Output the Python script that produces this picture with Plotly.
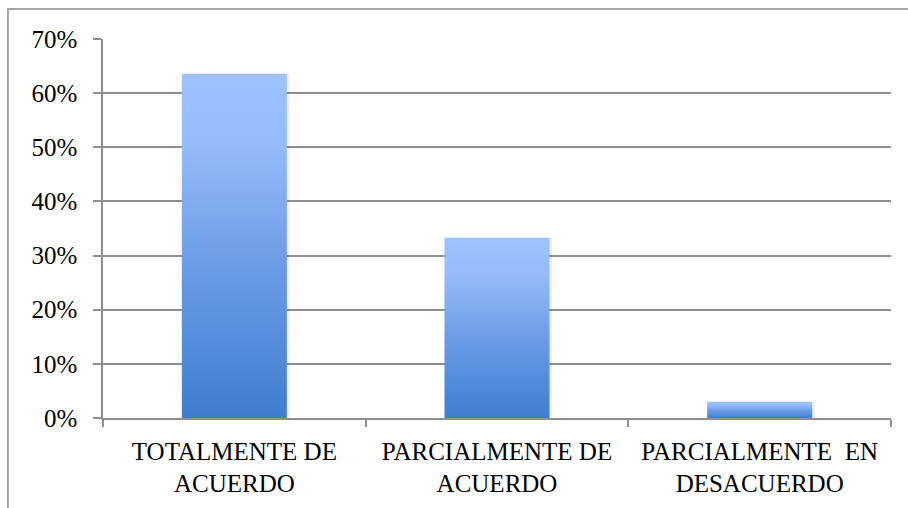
import plotly.graph_objects as go

categories = ["TOTALMENTE DE<br>ACUERDO", "PARCIALMENTE DE<br>ACUERDO", "PARCIALMENTE \u00a0EN<br>DESACUERDO"]
values = [0.636, 0.333, 0.030]
y_ticks = [0, 0.1, 0.2, 0.3, 0.4, 0.5, 0.6, 0.7]

BAR_W = 0.40
GRID = "#8e8e8e"
FONT = "Liberation Serif"
grad = [[0.0, "#3f7ecf"], [0.45, "#6c9ce6"], [0.8, "#95bcfb"], [1.0, "#9cc3ff"]]

fig = go.Figure()
for i, v in enumerate(values):
    xs = [i - BAR_W / 2, i + BAR_W / 2, i + BAR_W / 2, i - BAR_W / 2, i - BAR_W / 2]
    ys = [0, 0, v, v, 0]
    # soft shadow
    fig.add_trace(go.Scatter(
        x=[x + 0.010 for x in xs], y=ys, mode="lines",
        fill="toself", fillcolor="rgba(0,0,0,0.06)", line=dict(width=0),
        hoverinfo="skip", showlegend=False))
    fig.add_trace(go.Scatter(
        x=xs, y=ys, mode="lines", fill="toself",
        fillgradient=dict(type="vertical", colorscale=grad),
        line=dict(width=0), showlegend=False, hoverinfo="skip"))

fig.update_layout(
    width=908, height=508,
    margin=dict(l=103, r=17, t=39, b=90),
    paper_bgcolor="white", plot_bgcolor="white",
    font=dict(family=FONT, size=25, color="black"),
    showlegend=False,
    shapes=[dict(type="rect", xref="paper", yref="paper",
                 x0=-0.1206, x1=1.05, y0=-0.3, y1=1.079,
                 line=dict(color="#8a8a8a", width=1.5), fillcolor="rgba(0,0,0,0)", layer="below")],
)
fig.update_xaxes(
    range=[-0.5, 2.5], tickmode="array", tickvals=[0, 1, 2], ticktext=categories,
    ticks="", showgrid=False, zeroline=False,
    showline=True, linecolor=GRID, linewidth=1.5,
    minor=dict(tickmode="array", tickvals=[-0.5, 0.5, 1.5, 2.5], ticks="outside",
               ticklen=7, tickcolor=GRID, tickwidth=1.5, showgrid=False),
    tickfont=dict(family=FONT, size=25), ticklabelstandoff=10,
)
fig.update_yaxes(
    range=[0, 0.7], tickmode="array", tickvals=y_ticks, tickformat=".0%",
    ticks="outside", ticklen=8, tickcolor=GRID, tickwidth=1.5,
    showgrid=True, gridcolor=GRID, gridwidth=1.5, zeroline=False,
    showline=True, linecolor=GRID, linewidth=1.5,
    tickfont=dict(family=FONT, size=25), ticklabelstandoff=11,
)
fig.write_html("out.html", config={"displayModeBar": False},
               post_script="document.body.style.margin='0';")
